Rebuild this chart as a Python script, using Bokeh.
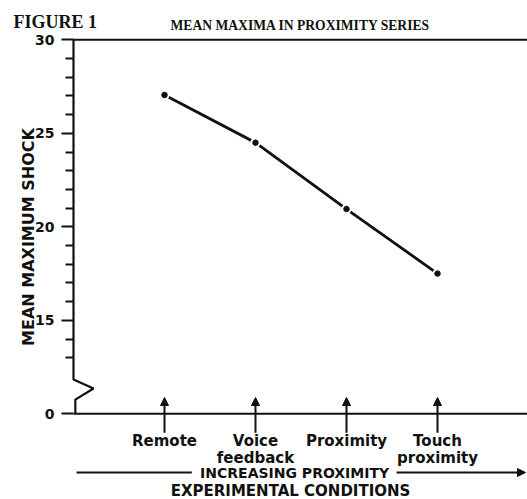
import math
from bokeh.plotting import figure
from bokeh.models import Range1d, FixedTicker, Label, Arrow, NormalHead, ColumnDataSource
from bokeh.core.properties import value
from bokeh.embed import file_html
from bokeh.resources import INLINE

# ---- data ----
categories = ["Remote", "Voice\nfeedback", "Proximity", "Touch\nproximity"]
cat_pos = [1, 2, 3, 4]
mean_max_shock = [27.05, 24.5, 20.95, 17.5]
major_ticks = [10, 15, 20, 25, 30]
major_label_overrides = {10: "0"}
minor_ticks = [13, 14, 16, 17, 18, 19, 21, 22, 23, 24, 26, 27, 28, 29]
break_x = [0, 0, 0.22, 0.02, 0.02]
break_y = [30, 11.83, 11.35, 10.76, 10]

ink = "#111111"
X_START, X_END = -0.8022, 4.989
p = figure(width=527, height=499,
           x_range=Range1d(X_START, X_END), y_range=Range1d(5.417, 32.102),
           output_backend="svg", toolbar_location=None,
           x_axis_location=None,
           min_border=0, min_border_left=0, min_border_right=0,
           min_border_top=0, min_border_bottom=0)
p.grid.visible = False
p.outline_line_color = None
p.background_fill_color = "white"
p.border_fill_color = "white"

ax = p.yaxis[0]
ax.fixed_location = 0
ax.ticker = FixedTicker(ticks=major_ticks, minor_ticks=minor_ticks)
ax.major_label_overrides = major_label_overrides
ax.axis_line_color = None
ax.major_tick_out = 12
ax.major_tick_in = 0
ax.minor_tick_out = 8
ax.minor_tick_in = 0
ax.major_tick_line_width = 2
ax.minor_tick_line_width = 2
ax.major_tick_line_color = ink
ax.minor_tick_line_color = ink
ax.major_label_text_font = "DejaVu Sans"
ax.major_label_text_font_style = "bold"
ax.major_label_text_font_size = "14px"
ax.major_label_text_color = ink
ax.major_label_standoff = 7

# axis line with break, frame top and bottom lines
p.line(break_x, break_y, line_width=2.2, color=ink)
p.line([0, X_END], [30, 30], line_width=2, color=ink)
p.line([0, X_END], [10, 10], line_width=2, color=ink)

# category arrows
src = ColumnDataSource(dict(x=cat_pos, y0=[8.98] * 4, y1=[10.87] * 4))
p.add_layout(Arrow(end=NormalHead(size=8, fill_color=ink, line_color=ink, line_width=1),
                   x_start="x", y_start="y0", x_end="x", y_end="y1",
                   source=src, line_width=2, line_color=ink))

p.text(x=cat_pos, y=[9.0] * 4, text=categories, text_align="center",
       text_baseline="top", text_font=value("DejaVu Sans"), text_font_style="bold",
       text_font_size="15px", text_line_height=0.92, text_color=ink)

# data line
p.line(cat_pos, mean_max_shock, line_width=2.8, color=ink)
p.scatter(cat_pos, mean_max_shock, size=10, fill_color="white", line_color=None)
p.scatter(cat_pos, mean_max_shock, size=5.5, color=ink)

# increasing proximity arrow
p.line([0.033, 1.30], [6.86, 6.86], line_width=2.2, color=ink)
p.add_layout(Arrow(end=NormalHead(size=8, fill_color=ink, line_color=ink, line_width=1),
                   x_start=3.55, y_start=6.86, x_end=4.967, y_end=6.86,
                   line_width=2.2, line_color=ink))
p.text(x=[2.43], y=[6.86], text=["INCREASING PROXIMITY"], text_align="center",
       text_baseline="middle", text_font=value("DejaVu Sans"), text_font_style="bold",
       text_font_size="14px", text_color=ink)
p.text(x=[2.385], y=[5.845], text=["EXPERIMENTAL CONDITIONS"], text_align="center",
       text_baseline="middle", text_font=value("DejaVu Sans"), text_font_style="bold",
       text_font_size="15px", text_color=ink)

# titles and y label
p.add_layout(Label(x=-0.659, y=30.94, text="FIGURE 1", text_font="Liberation Serif",
                   text_font_style="bold", text_font_size="18px", text_color=ink,
                   text_align="left", text_baseline="alphabetic"))
p.add_layout(Label(x=1.066, y=30.765, text="MEAN MAXIMA IN PROXIMITY SERIES",
                   text_font="Liberation Serif", text_font_style="bold",
                   text_font_size="13.6px", text_color=ink,
                   text_align="left", text_baseline="alphabetic"))
p.add_layout(Label(x=-0.50, y=19.455, text="MEAN MAXIMUM SHOCK", angle=math.pi / 2,
                   text_font="DejaVu Sans", text_font_style="bold",
                   text_font_size="16px", text_color=ink,
                   text_align="center", text_baseline="middle"))

open("out.html", "w").write(file_html(p, INLINE))
